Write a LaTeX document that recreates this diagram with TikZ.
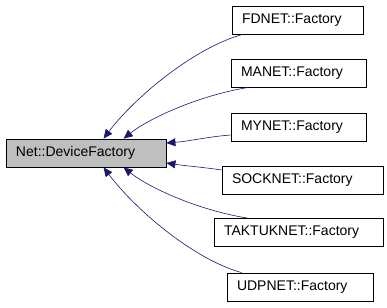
\documentclass[tikz,border=0pt]{standalone}
\usepackage{fontspec}
\setmainfont{Liberation Sans}
\usetikzlibrary{arrows.meta}
\definecolor{edgeblue}{HTML}{191970}
\definecolor{basegrey}{HTML}{BFBFBF}
\begin{document}
\begin{tikzpicture}[x=1pt,y=-1pt,
  cls/.style={draw=black, line width=0.8pt, fill=white, minimum height=28pt,
    inner xsep=10pt, inner ysep=0pt, align=left,
    font=\fontsize{14}{16}\selectfont},
  base/.style={cls, fill=basegrey},
  inherit/.style={draw=edgeblue, line width=0.6pt,
    -{Triangle[length=9pt,width=8pt]}, fill=none},
]
\useasboundingbox (0,0) rectangle (387,307);

% base class
\node[base, text width=140pt] (base) at (86,153) {Net::DeviceFactory};

% derived factories
\node[cls, text width=111pt] (fd)   at (297.5,20)  {FDNET::Factory};
\node[cls, text width=115pt] (ma)   at (298.5,73)  {MANET::Factory};
\node[cls, text width=115pt] (my)   at (298.5,127) {MYNET::Factory};
\node[cls, text width=141pt] (sock) at (302.5,180) {SOCKNET::Factory};
\node[cls, text width=149pt] (tak)  at (298.5,232.5) {TAKTUKNET::Factory};
\node[cls, text width=126pt] (udp)  at (300,287)   {UDPNET::Factory};

% inheritance arrows, pointing at the base class
\draw[inherit] ([xshift=11pt]fd.south west)
  .. controls +(-50,14) and +(30,-40) .. ([xshift=98pt]base.north west);
\draw[inherit] ([xshift=18pt]ma.south west)
  .. controls +(-50,8) and +(25,-20) .. ([xshift=118pt]base.north west);
\draw[inherit] ([yshift=-8pt]my.west)
  .. controls +(-25,2) and +(25,-2) .. ([yshift=10pt]base.east);
\draw[inherit] ([yshift=10pt]sock.west)
  .. controls +(-20,-3) and +(20,3) .. ([yshift=-10pt]base.east);
\draw[inherit] ([xshift=34pt]tak.north west)
  .. controls +(-50,-8) and +(25,20) .. ([xshift=118pt]base.south west);
\draw[inherit] ([xshift=15pt]udp.north west)
  .. controls +(-50,-14) and +(30,40) .. ([xshift=98pt]base.south west);
\end{tikzpicture}
\end{document}
